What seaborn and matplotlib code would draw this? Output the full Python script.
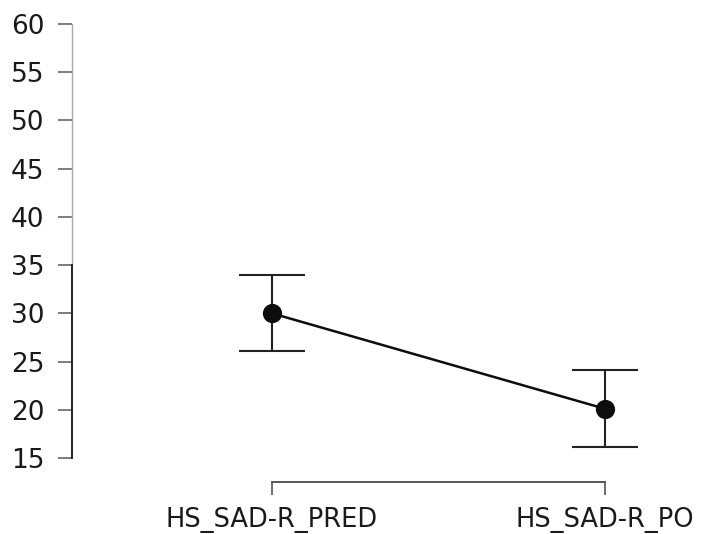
import matplotlib
matplotlib.use("Agg")
import matplotlib.pyplot as plt
import matplotlib.transforms as mtransforms
import seaborn as sns
import pandas as pd

categories = ["HS_SAD-R_PRED", "HS_SAD-R_PO"]
means = [30.0, 20.1]
ci_lower = [26.1, 16.1]
ci_upper = [34.0, 24.1]
yticks = [15, 20, 25, 30, 35, 40, 45, 50, 55, 60]

df = pd.DataFrame({"cond": categories, "mean": means})

sns.set_theme(style="ticks")
plt.rcParams["font.family"] = ["DejaVu Sans"]

fig = plt.figure(figsize=(7.06, 5.34), dpi=100)
ax = fig.add_axes([72 / 706, (534 - 458) / 534, (705 - 72) / 706, (458 - 24) / 534])

lo_err = [m - l for m, l in zip(means, ci_lower)]
hi_err = [u - m for m, u in zip(means, ci_upper)]
ax.errorbar(range(len(categories)), means, yerr=[lo_err, hi_err], fmt="none",
            ecolor="#222222", elinewidth=1.5, capsize=23.5, capthick=1.5, zorder=2)
sns.pointplot(data=df, x="cond", y="mean", errorbar=None, color="#0d0d0d",
              markers="o", markersize=12.5, linewidth=1.8, ax=ax, zorder=3)

ax.set_ylim(15, 60)
ax.set_xlim(-0.6, 1.3)
ax.set_yticks(yticks)
ax.set_xlabel("")
ax.set_ylabel("")

for s in ["top", "right"]:
    ax.spines[s].set_visible(False)
ax.spines["left"].set_bounds(15, 35)
ax.spines["left"].set_color("#222222")
ax.spines["left"].set_linewidth(1.4)
ax.spines["bottom"].set_bounds(0, 1)
ax.spines["bottom"].set_position(("outward", 17))
ax.spines["bottom"].set_color("#555555")
ax.spines["bottom"].set_linewidth(1.4)

# faint continuation of the y axis line above 35
trans = mtransforms.blended_transform_factory(ax.transAxes, ax.transData)
ax.plot([0, 0], [35, 60], transform=trans, color="#aaaaaa", lw=1.0, clip_on=False, zorder=1)

ax.tick_params(axis="y", length=10, width=1.2, color="#666666", labelsize=19,
               labelcolor="#1a1a1a", pad=10)
ax.tick_params(axis="x", length=9, width=1.2, color="#555555", labelsize=18.5,
               labelcolor="#1a1a1a", pad=9)

fig.savefig("out.png", dpi=100)
